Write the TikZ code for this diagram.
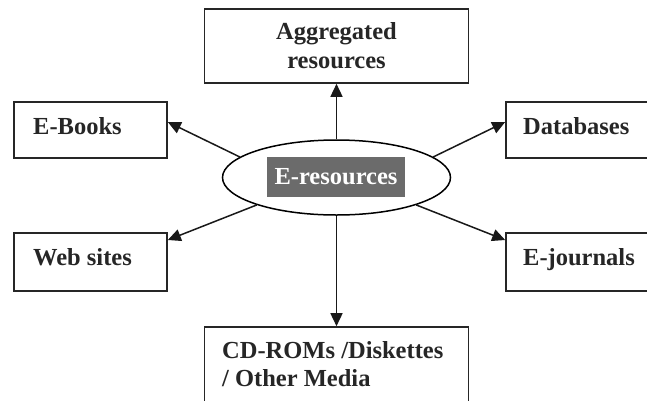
\documentclass[tikz,border=0pt]{standalone}
\usepackage{fontspec}
\setmainfont{Liberation Serif}
\usetikzlibrary{arrows.meta,shapes.geometric}
\tikzset{
  txt/.style={font=\bfseries\fontsize{24.5}{29}\selectfont, text=black!85},
  box/.style={draw=black!85, line width=1.6pt, inner sep=0pt, txt},
  lab/.style={txt, anchor=base west, inner sep=0pt},
  conn/.style={draw=black!90, line width=1.5pt, -{Triangle[length=13pt,width=12pt]}},
}
\begin{document}
\begin{tikzpicture}[x=1pt,y=-1pt]
\clip (0,0) rectangle (647,400);
\fill[white] (0,0) rectangle (647,400);
% boxes
\node[box, minimum width=264pt, minimum height=74pt, align=center] (agg) at (336.5,46) {Aggregated\\resources};
\node[box, minimum width=153pt, minimum height=56pt] (ebooks) at (90.5,130) {};
\node[lab] (ebooksT) at (33,134) {E-Books};
\node[box, minimum width=153pt, minimum height=58pt] (web) at (90.5,262) {};
\node[lab] (webT) at (33,265) {Web sites};
\node[box, minimum width=160pt, minimum height=56pt] (db) at (586,130) {};
\node[lab] (dbT) at (523,134) {Databases};
\node[box, minimum width=160pt, minimum height=58pt] (ej) at (586,262) {};
\node[lab] (ejT) at (523,265) {E-journals};
\node[box, minimum width=264pt, minimum height=83pt] (cd) at (336.5,368.5) {};
\node[lab] (cdT1) at (222,358) {CD-ROMs /Diskettes};
\node[lab] (cdT2) at (222,386) {/ Other Media};
% center
\node[ellipse, draw=black, line width=1.5pt, minimum width=228pt, minimum height=75pt, inner sep=0pt] (ell) at (336.5,177.5) {};
\node[fill=black!58, minimum width=138pt, minimum height=40pt, inner sep=0pt, txt, text=white] (lbl) at (336,177) {E-resources};
% connectors
\draw[conn] (ell.north) -- (agg.south);
\draw[conn] (ell.south) -- (cd.north);
\draw[conn] (ell.168) -- ([yshift=8pt]ebooks.east);
\draw[conn] (ell.199) -- ([yshift=22pt]web.east);
\draw[conn] (ell.12) -- ([yshift=8pt]db.west);
\draw[conn] (ell.341) -- ([yshift=22pt]ej.west);
\end{tikzpicture}
\end{document}
